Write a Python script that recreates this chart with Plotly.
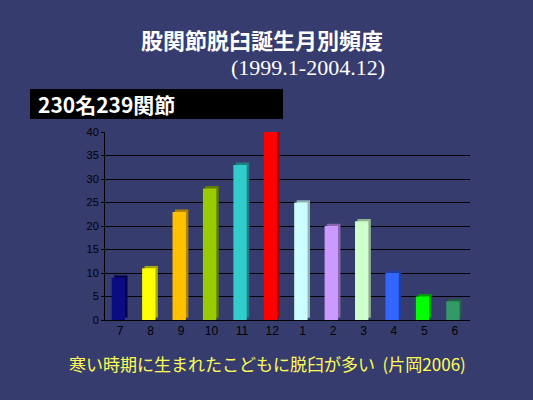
import plotly.graph_objects as go

# data
months = ['7', '8', '9', '10', '11', '12', '1', '2', '3', '4', '5', '6']
counts = [9, 11, 23, 28, 33, 40, 25, 20, 21, 10, 5, 4]
bar_colors = ['#0B0B82', '#FFFF00', '#FFC000', '#99CC00', '#33CCCC', '#FF0000',
              '#CCFFFF', '#CC99FF', '#CCFFCC', '#3366FF', '#00FF00', '#339966']
side_colors = ['#05054A', '#A8A800', '#B08400', '#5E7D00', '#1F8080', '#A00000',
               '#8FB3B3', '#8A66B3', '#8FB38F', '#1F3FA0', '#00A000', '#1F5F3F']

BG = '#373C6E'

# plot area in pixels: x 105..470, y 132..320
def px(x):
    return (x - 105) / 365

def py(y):
    return (320 - y) / 188

fig = go.Figure()

# darker side/top of each bar for the 3D look
fig.add_trace(go.Bar(x=months, y=counts, base=0.5, width=0.44, offset=-0.2,
                     marker=dict(color=side_colors, line=dict(width=0)),
                     showlegend=False, hoverinfo='skip'))
# front face
fig.add_trace(go.Bar(x=months, y=counts, width=0.44, offset=-0.28,
                     marker=dict(color=bar_colors, line=dict(width=0)),
                     showlegend=False))

fig.update_layout(
    width=533, height=400,
    paper_bgcolor=BG, plot_bgcolor=BG,
    barmode='overlay',
    margin=dict(l=105, r=63, t=132, b=80),
    font=dict(family='Liberation Sans, Arial', color='black', size=11),
)
fig.update_xaxes(showline=True, linecolor='black', linewidth=1, showgrid=False,
                 ticks='', tickfont=dict(size=12, color='black'), range=[-0.5, 11.5])
fig.update_yaxes(range=[0, 40], dtick=5, showgrid=True, gridcolor='black', gridwidth=1,
                 showline=True, linecolor='black', linewidth=1, ticks='outside',
                 ticklen=3, tickcolor='black', zeroline=False,
                 tickfont=dict(size=11, color='black'))

# titles
fig.add_annotation(text='<b>股関節脱臼誕生月別頻度</b>', xref='paper', yref='paper',
                   x=px(262), y=py(39), xanchor='center', yanchor='middle', showarrow=False,
                   font=dict(family='Noto Sans CJK JP', size=22, color='white'))
fig.add_annotation(text='(1999.1-2004.12)', xref='paper', yref='paper',
                   x=px(308), y=py(68), xanchor='center', yanchor='middle', showarrow=False,
                   font=dict(family='Liberation Serif', size=22, color='white'))

# black label box
fig.add_shape(type='rect', xref='paper', yref='paper',
              x0=px(30), x1=px(283), y0=py(119), y1=py(89),
              fillcolor='black', line=dict(width=0), layer='below')
fig.add_annotation(text='<b>230名239関節</b>', xref='paper', yref='paper',
                   x=px(36), y=py(104), xanchor='left', yanchor='middle',
                   showarrow=False,
                   font=dict(family='Noto Sans CJK JP', size=21, color='white'))

# bottom note
fig.add_annotation(text='寒い時期に生まれたこどもに脱臼が多い  (片岡2006)', xref='paper', yref='paper',
                   x=px(267), y=py(363), xanchor='center', yanchor='middle', showarrow=False,
                   font=dict(family='Noto Sans CJK JP', size=17, color='#FFFF55'))

fig.write_html("out.html", config={'displayModeBar': False},
               post_script="document.body.style.margin='0';document.body.style.overflow='hidden';")
